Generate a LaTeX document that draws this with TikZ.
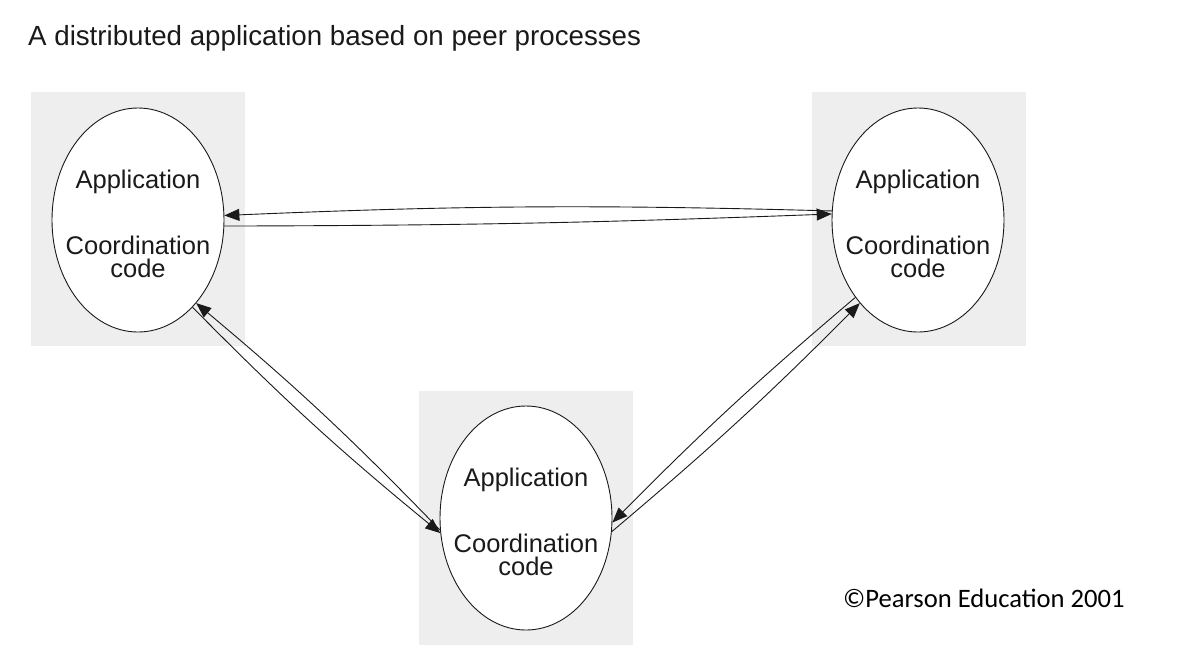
\documentclass[tikz,border=0pt]{standalone}
\usepackage{fontspec}
\setmainfont{Liberation Sans}
\newfontfamily\narrowfont{Liberation Sans}
\newfontfamily\capfont{Carlito}
\usetikzlibrary{shapes.geometric,arrows.meta}
\definecolor{boxgray}{HTML}{EEEEEE}
\definecolor{ink}{HTML}{1A1A1A}
\tikzset{
  peerbox/.style={fill=boxgray, draw=none, minimum width=214pt, minimum height=254pt, inner sep=0pt},
  peer/.style={ellipse, draw=ink, line width=0.9pt, fill=white, minimum width=172pt, minimum height=224pt, inner sep=0pt},
  lbl/.style={anchor=base, inner sep=0pt, text=ink, font=\narrowfont\fontsize{25.5}{28}\selectfont},
  msg/.style={draw=ink, line width=0.9pt, -{Triangle[length=15pt,width=12pt]}},
}
\begin{document}
\begin{tikzpicture}[x=1pt,y=-1pt]
\useasboundingbox (0,0) rectangle (1204,665);
\fill[white] (0,0) rectangle (1204,665);
% title
\node[anchor=base west, inner sep=0pt, text=ink, font=\narrowfont\fontsize{27.7}{30}\selectfont] (title) at (28,45) {A distributed application based on peer processes};
% gray boxes
\node[peerbox] (bl) at (137.5,219) {};
\node[peerbox] (br) at (918.5,219) {};
\node[peerbox] (bb) at (526,517.5) {};
% ellipses
\node[peer] (L) at (138,220) {};
\node[peer] (R) at (918,220) {};
\node[peer] (B) at (526,518) {};
% labels
\foreach \n/\x/\y in {L/138/220, R/918/220, B/526/518}{
  \node[lbl] (\n app) at (\x,\y-32) {Application};
  \node[lbl] (\n coord) at (\x,\y+34) {Coordination};
  \node[lbl] (\n code) at (\x,\y+57) {code};
}
% connectors
\draw[msg] (R.174) to[bend right=2] (L.3);
\draw[msg] (L.-4) to[bend right=1] (R.176);
\draw[msg] (B.188) to[bend right=3] (L.-55);
\draw[msg] (L.-58) to[bend right=3] (B.190);
\draw[msg] (R.231) to[bend right=2.5] (B.-3);
\draw[msg] (B.-9) to[bend right=2.5] (R.235);
% copyright
\node[anchor=base west, inner sep=0pt, font=\capfont\fontsize{26.6}{30}\selectfont] (copy) at (843,607) {©Pearson Education 2001};
\end{tikzpicture}
\end{document}
